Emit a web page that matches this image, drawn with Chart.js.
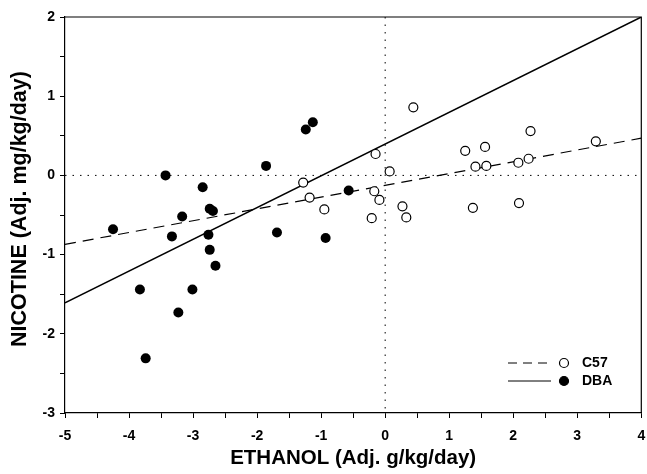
<!DOCTYPE html>
<html>
<head>
<meta charset="utf-8">
<script src="https://cdn.jsdelivr.net/npm/chart.js@4.4.0/dist/chart.umd.min.js"></script>
<style>
  html, body { margin: 0; padding: 0; background: #fff; }
  #wrap { width: 647px; height: 474px; position: relative; }
</style>
</head>
<body>
<div id="wrap"><canvas id="scatter"></canvas></div>
<script>
Chart.defaults.font.family = "'Liberation Sans', Arial, sans-serif";
Chart.defaults.font.weight = 'bold';
Chart.defaults.color = '#000';

// C57 mice (open circles)
const c57X = [-1.28, -1.18, -0.95, -0.15, 0.07, -0.17, -0.09, -0.21, 0.27, 0.33, 0.44,
              1.25, 1.56, 1.41, 1.58, 1.37, 2.27, 2.24, 2.08, 2.09, 3.29];
const c57Y = [-0.09, -0.28, -0.43, 0.27, 0.05, -0.20, -0.31, -0.54, -0.39, -0.53, 0.86,
              0.31, 0.36, 0.11, 0.12, -0.41, 0.56, 0.21, 0.16, -0.35, 0.43];

// DBA mice (filled circles)
const dbaX = [-4.25, -3.43, -2.85, -2.74, -2.69, -3.17, -1.86, -1.24, -1.13, -3.33,
              -2.76, -2.74, -2.65, -1.69, -0.93, -3.83, -3.01, -3.23, -3.74, -0.57];
const dbaY = [-0.68, 0.00, -0.15, -0.42, -0.45, -0.52, 0.12, 0.58, 0.67, -0.77,
              -0.75, -0.94, -1.14, -0.72, -0.79, -1.44, -1.44, -1.73, -2.31, -0.19];

// regression lines, ends at x = -5 and x = 4
const fitX = [-5, 4];
const c57FitY = [-0.87, 0.47];
const dbaFitY = [-1.61, 2.0];

const xTicks = [-5, -4, -3, -2, -1, 0, 1, 2, 3, 4];
const yTicks = [-3, -2, -1, 0, 1, 2];

const toPoints = (xs, ys) => xs.map((x, i) => ({x: x, y: ys[i]}));

// dotted zero lines + frame on top and right
const framePlugin = {
    id: 'frame',
    beforeDatasetsDraw(chart) {
        const {ctx, chartArea, scales} = chart;
        const x0 = scales.x.getPixelForValue(0);
        const y0 = scales.y.getPixelForValue(0);
        ctx.save();
        ctx.strokeStyle = '#000';
        ctx.lineWidth = 1;
        ctx.setLineDash([1.5, 6]);
        ctx.beginPath();
        ctx.moveTo(chartArea.left, y0);
        ctx.lineTo(chartArea.right, y0);
        ctx.moveTo(x0, chartArea.top);
        ctx.lineTo(x0, chartArea.bottom);
        ctx.stroke();
        ctx.setLineDash([]);
        ctx.lineWidth = 1.2;
        ctx.beginPath();
        ctx.moveTo(chartArea.left, chartArea.top);
        ctx.lineTo(chartArea.right, chartArea.top);
        ctx.lineTo(chartArea.right, chartArea.bottom);
        ctx.stroke();
        ctx.restore();
    }
};

// legend in lower right corner
const legendPlugin = {
    id: 'cornerLegend',
    afterDraw(chart) {
        const {ctx} = chart;
        const rows = [
            {label: 'C57', dash: [9, 6], fill: '#fff', y: 363},
            {label: 'DBA', dash: [], fill: '#000', y: 381}
        ];
        ctx.save();
        ctx.font = "bold 14px 'Liberation Sans', Arial, sans-serif";
        ctx.textBaseline = 'middle';
        rows.forEach(r => {
            ctx.strokeStyle = '#000';
            ctx.lineWidth = 1;
            ctx.setLineDash(r.dash);
            ctx.beginPath();
            ctx.moveTo(508, r.y);
            ctx.lineTo(551, r.y);
            ctx.stroke();
            ctx.setLineDash([]);
            ctx.beginPath();
            ctx.arc(564, r.y, 4.5, 0, Math.PI * 2);
            ctx.fillStyle = r.fill;
            ctx.fill();
            ctx.lineWidth = 1.2;
            ctx.stroke();
            ctx.fillStyle = '#000';
            ctx.fillText(r.label, 582, r.y);
        });
        ctx.restore();
    }
};

const scatterData = {
    datasets: [{
        label: 'C57',
        data: toPoints(c57X, c57Y),
        pointRadius: 4.5,
        pointBackgroundColor: '#fff',
        pointBorderColor: '#000',
        pointBorderWidth: 1.2,
        showLine: false
    }, {
        label: 'DBA',
        data: toPoints(dbaX, dbaY),
        pointRadius: 5,
        pointBackgroundColor: '#000',
        pointBorderColor: '#000',
        pointBorderWidth: 0,
        showLine: false
    }, {
        label: 'C57 fit',
        data: toPoints(fitX, c57FitY),
        showLine: true,
        pointRadius: 0,
        borderColor: '#000',
        borderWidth: 1.2,
        borderDash: [11, 7]
    }, {
        label: 'DBA fit',
        data: toPoints(fitX, dbaFitY),
        showLine: true,
        pointRadius: 0,
        borderColor: '#000',
        borderWidth: 1.5
    }]
};

const scatterConfig = {
    type: 'scatter',
    data: scatterData,
    options: {
        responsive: true,
        maintainAspectRatio: false,
        animation: false,
        layout: {padding: {top: 17, right: 0, left: 0, bottom: 0}},
        plugins: {
            legend: {display: false},
            tooltip: {enabled: false}
        },
        scales: {
            x: {
                min: -5,
                max: 4,
                afterFit: s => { s.height = 61; s.paddingRight = 3; },
                grid: {drawOnChartArea: false, tickLength: 5, color: '#000', lineWidth: 1},
                border: {color: '#000', width: 1.2},
                ticks: {
                    stepSize: 0.5,
                    autoSkip: false,
                    maxRotation: 0,
                    padding: 10,
                    font: {size: 14, weight: 'bold'},
                    callback: v => xTicks.includes(v) ? String(v) : ''
                },
                title: {
                    display: true,
                    text: 'ETHANOL (Adj. g/kg/day)',
                    font: {size: 20.5, weight: 'bold'},
                    padding: {top: 0, bottom: 3}
                }
            },
            y: {
                min: -3,
                max: 2,
                afterFit: s => { s.width = 65; },
                grid: {drawOnChartArea: false, tickLength: 5, color: '#000', lineWidth: 1},
                border: {color: '#000', width: 1.2},
                ticks: {
                    stepSize: 0.5,
                    autoSkip: false,
                    padding: 5,
                    font: {size: 14, weight: 'bold'},
                    callback: v => yTicks.includes(v) ? String(v) : ''
                },
                title: {
                    display: true,
                    text: '  NICOTINE (Adj. mg/kg/day)',
                    font: {size: 21.5, weight: 'bold'},
                    padding: {top: 7, bottom: 0}
                }
            }
        }
    },
    plugins: [framePlugin, legendPlugin]
};

// render scatter
const scatterChart = new Chart(
    document.getElementById('scatter'),
    scatterConfig
    );
</script>
</body>
</html>
